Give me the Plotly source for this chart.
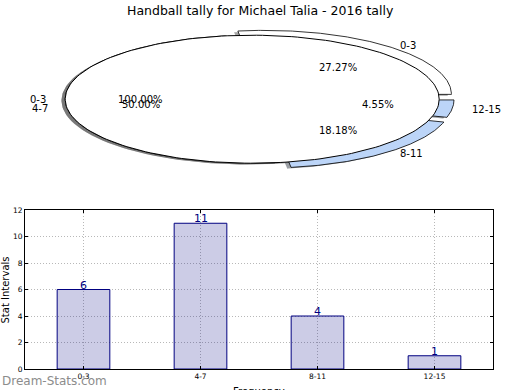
import numpy as np
import plotly.graph_objects as go

# ---------------- data ----------------
title_text = "Handball tally for Michael Talia - 2016 tally"
categories = ["0-3", "4-7", "8-11", "12-15"]
counts = [6, 11, 4, 1]
pie_explode = [0.1, 0.0, 0.1, 0.08]
pie_colors = ["#ffffff", "#ffffff", "#bcd5f8", "#bcd5f8"]
overlay_labels = ["0-3"]
overlay_values = [1]
y_ticks = [0, 2, 4, 6, 8, 10, 12]
x_title = "Frequency"
y_title = "Stat Intervals"
watermark = "Dream-Stats.com"

# ---------------- geometry ----------------
W, H = 520, 390
CX, CY = 252.2, 99.2      # pie centre in pixels
RX, RY = 187.0, 64.0      # pixels per unit radius
PIE_TOP, PIE_BOT = 0.0, 195.0
TEXT_YSCALE = 0.93        # vertical placement factor of pie texts
FONT = "DejaVu Sans, Verdana, sans-serif"

fig = go.Figure()


def wedge_xy(t1, t2, dx, dy, full=False, n=200):
    th = np.radians(np.linspace(t1, t2, n))
    xs = dx + np.cos(th)
    ys = dy + np.sin(th)
    if full:
        return list(xs), list(ys)
    return [dx] + list(xs) + [dx], [dy] + list(ys) + [dy]


def shadow_color(hexcol):
    r = int(hexcol[1:3], 16); g = int(hexcol[3:5], 16); b = int(hexcol[5:7], 16)
    return "rgba(%d,%d,%d,0.5)" % (int(r * 0.3), int(g * 0.3), int(b * 0.3))


total = float(sum(counts))
fracs = [c / total for c in counts]
angles = []
a = 0.0
for f in fracs:
    angles.append((a, a + 360 * f))
    a += 360 * f

ov_total = float(sum(overlay_values))
ov_angles = []
a = 0.0
for v in overlay_values:
    ov_angles.append((a, a + 360 * v / ov_total))
    a += 360 * v / ov_total

SOX, SOY = -0.02, -0.02

# shadows of main pie
for (t1, t2), ex, col in zip(angles, pie_explode, pie_colors):
    mid = np.radians((t1 + t2) / 2)
    dx, dy = ex * np.cos(mid), ex * np.sin(mid)
    xs, ys = wedge_xy(t1, t2, dx + SOX, dy + SOY)
    fig.add_trace(go.Scatter(x=xs, y=ys, mode="lines", fill="toself",
                             fillcolor=shadow_color(col), line=dict(width=0),
                             hoverinfo="skip", showlegend=False, xaxis="x", yaxis="y"))
# shadow of overlay pie
for (t1, t2) in ov_angles:
    xs, ys = wedge_xy(t1, t2, SOX, SOY, full=(t2 - t1) >= 359.999)
    fig.add_trace(go.Scatter(x=xs, y=ys, mode="lines", fill="toself",
                             fillcolor=shadow_color("#ffffff"), line=dict(width=0),
                             hoverinfo="skip", showlegend=False, xaxis="x", yaxis="y"))
# main pie wedges
for (t1, t2), ex, col in zip(angles, pie_explode, pie_colors):
    mid = np.radians((t1 + t2) / 2)
    dx, dy = ex * np.cos(mid), ex * np.sin(mid)
    xs, ys = wedge_xy(t1, t2, dx, dy)
    fig.add_trace(go.Scatter(x=xs, y=ys, mode="lines", fill="toself",
                             fillcolor=col, line=dict(width=0.8, color="black"),
                             hoverinfo="skip", showlegend=False, xaxis="x", yaxis="y"))
# overlay pie (single 100% wedge)
for (t1, t2) in ov_angles:
    xs, ys = wedge_xy(t1, t2, 0, 0, full=(t2 - t1) >= 359.999)
    fig.add_trace(go.Scatter(x=xs, y=ys, mode="lines", fill="toself",
                             fillcolor="#ffffff", line=dict(width=1, color="black"),
                             hoverinfo="skip", showlegend=False, xaxis="x", yaxis="y"))

annotations = []


def pie_text(x, y, text, cos_sign=None):
    if cos_sign is None:
        xa = "center"
    else:
        xa = "left" if cos_sign > 0 else "right"
    annotations.append(dict(x=x, y=y * TEXT_YSCALE, xref="x", yref="y", text=text,
                            showarrow=False, borderpad=0,
                            xanchor=xa, yanchor="middle",
                            font=dict(family=FONT, size=10, color="black")))


for (t1, t2), ex, lab in zip(angles, pie_explode, categories):
    mid = np.radians((t1 + t2) / 2)
    c, s = np.cos(mid), np.sin(mid)
    r_lab = 1.1 + ex
    pie_text(r_lab * c, r_lab * s, lab, cos_sign=c)
    r_pct = 0.6 + ex
    pie_text(r_pct * c, r_pct * s, "%.2f%%" % (100 * (t2 - t1) / 360.0))

for (t1, t2), lab in zip(ov_angles, overlay_labels):
    mid = np.radians((t1 + t2) / 2)
    c, s = np.cos(mid), np.sin(mid)
    pie_text(1.1 * c, 1.1 * s, lab, cos_sign=c)
    pie_text(0.6 * c, 0.6 * s, "%.2f%%" % (100 * (t2 - t1) / 360.0))

# ---------------- bar chart ----------------
fig.add_trace(go.Bar(x=list(range(len(categories))), y=counts, width=0.45,
                     marker=dict(color="rgba(0,0,128,0.2)",
                                 line=dict(color="#000080", width=1)),
                     hoverinfo="skip", showlegend=False, xaxis="x2", yaxis="y2"))
for i, v in enumerate(counts):
    annotations.append(dict(x=i, y=v, xref="x2", yref="y2", text=str(v), showarrow=False,
                            xanchor="center", yanchor="bottom", yshift=-4,
                            font=dict(family=FONT, size=11, color="#000080")))

# title, axis titles, watermark
annotations.append(dict(x=260 / W, y=1 - 10.5 / H, xref="paper", yref="paper", text=title_text,
                        showarrow=False, xanchor="center", yanchor="middle",
                        font=dict(family=FONT, size=12.5, color="black")))
annotations.append(dict(x=259 / W, y=1 - 384 / H, xref="paper", yref="paper", text=x_title,
                        showarrow=False, xanchor="center", yanchor="top",
                        font=dict(family=FONT, size=10, color="black")))
annotations.append(dict(x=4.5 / W, y=1 - 290 / H, xref="paper", yref="paper", text=y_title,
                        showarrow=False, xanchor="center", yanchor="middle", textangle=-90,
                        font=dict(family=FONT, size=10, color="black")))
annotations.append(dict(x=0, y=1 - 380.5 / H, xref="paper", yref="paper", text=watermark,
                        showarrow=False, xanchor="left", yanchor="middle",
                        font=dict(family=FONT, size=12, color="#8c8c8c")))

BX0, BX1, BY0, BY1 = 25, 493, 210, 369

grid_style = dict(showgrid=True, gridcolor="#b8b8b8", griddash="1px,2px", gridwidth=1)

fig.update_layout(
    width=W, height=H, margin=dict(l=0, r=0, t=0, b=0, autoexpand=False),
    paper_bgcolor="white", plot_bgcolor="white",
    showlegend=False,
    xaxis=dict(domain=[0, 1], range=[-CX / RX, (W - CX) / RX], visible=False,
               fixedrange=True, automargin=False),
    yaxis=dict(domain=[1 - PIE_BOT / H, 1 - PIE_TOP / H],
               range=[(CY - PIE_BOT) / RY, (CY - PIE_TOP) / RY], visible=False,
               fixedrange=True, automargin=False),
    xaxis2=dict(domain=[BX0 / W, BX1 / W], anchor="y2", range=[-0.5, len(categories) - 0.5],
                tickmode="array", tickvals=list(range(len(categories))), ticktext=categories,
                showline=True, linecolor="black", linewidth=1, mirror="allticks",
                ticks="inside", ticklen=3, tickcolor="black", automargin=False,
                zeroline=False, tickfont=dict(family=FONT, size=7.5, color="black"),
                fixedrange=True, **grid_style),
    yaxis2=dict(domain=[1 - BY1 / H, 1 - BY0 / H], anchor="x2", range=[0, 12],
                tickmode="array", tickvals=y_ticks,
                showline=True, linecolor="black", linewidth=1, mirror="allticks",
                ticks="inside", ticklen=3, tickcolor="black", automargin=False,
                zeroline=False, tickfont=dict(family=FONT, size=7.5, color="black"),
                fixedrange=True, **grid_style),
    annotations=annotations,
)

fig.write_html("out.html", config={"displayModeBar": False},
               post_script="document.body.style.margin='0';")
